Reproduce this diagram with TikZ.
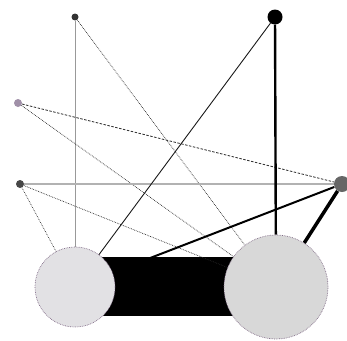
\documentclass[tikz,border=0pt]{standalone}
\usetikzlibrary{backgrounds}
\definecolor{rimc}{HTML}{806A86}
\tikzset{
  dotnode/.style={circle, inner sep=0pt, draw=none},
  bignode/.style={circle, inner sep=0pt, draw=rimc, densely dotted, line width=0.7pt},
  thinedge/.style={line width=0.7pt, draw=black!85},
}
\begin{document}
\begin{tikzpicture}[x=1pt,y=-1pt]
\useasboundingbox (0,0) rectangle (347,340);
\node[dotnode, fill=black!80, minimum size=7pt] (A) at (75,17) {};
\node[dotnode, fill=black, minimum size=15pt] (B) at (275,17) {};
\node[dotnode, fill={rgb,255:red,160;green,144;blue,168}, minimum size=8pt] (C) at (18,103) {};
\node[dotnode, fill=black!72, minimum size=8pt] (D) at (20,184) {};
\node[dotnode, fill=black!60, minimum size=16pt] (E) at (342,184) {};
\node[bignode, fill={rgb,255:red,226;green,225;blue,228}, minimum size=80pt] (F) at (75,287) {};
\node[bignode, fill={rgb,255:red,216;green,216;blue,216}, minimum size=104pt] (G) at (276,287) {};
\begin{pgfonlayer}{background}
\draw[line width=59pt, line join=round] ([yshift=0.5pt]F.center) -- ([yshift=0.5pt]G.center);
\draw[line width=0.9pt, draw=black!40] (A) -- (F);
\draw[thinedge, densely dotted] (A) -- (G);
\draw[line width=0.8pt, black!85, dash pattern=on 2.5pt off 1.5pt] (C) -- (E);
\draw[thinedge, densely dotted] (C) -- (G);
\draw[line width=1.4pt, draw=black!30] (D) -- (E);
\draw[thinedge, densely dotted] (D) -- (F);
\draw[thinedge, densely dotted] (D) -- (G);
\draw[line width=0.9pt, draw=black!90] (B) -- (F);
\draw[line width=2.4pt] (B) -- (G);
\draw[line width=2pt] (E) -- (F);
\draw[line width=3.5pt] (E) -- (G);
\end{pgfonlayer}
\end{tikzpicture}
\end{document}
